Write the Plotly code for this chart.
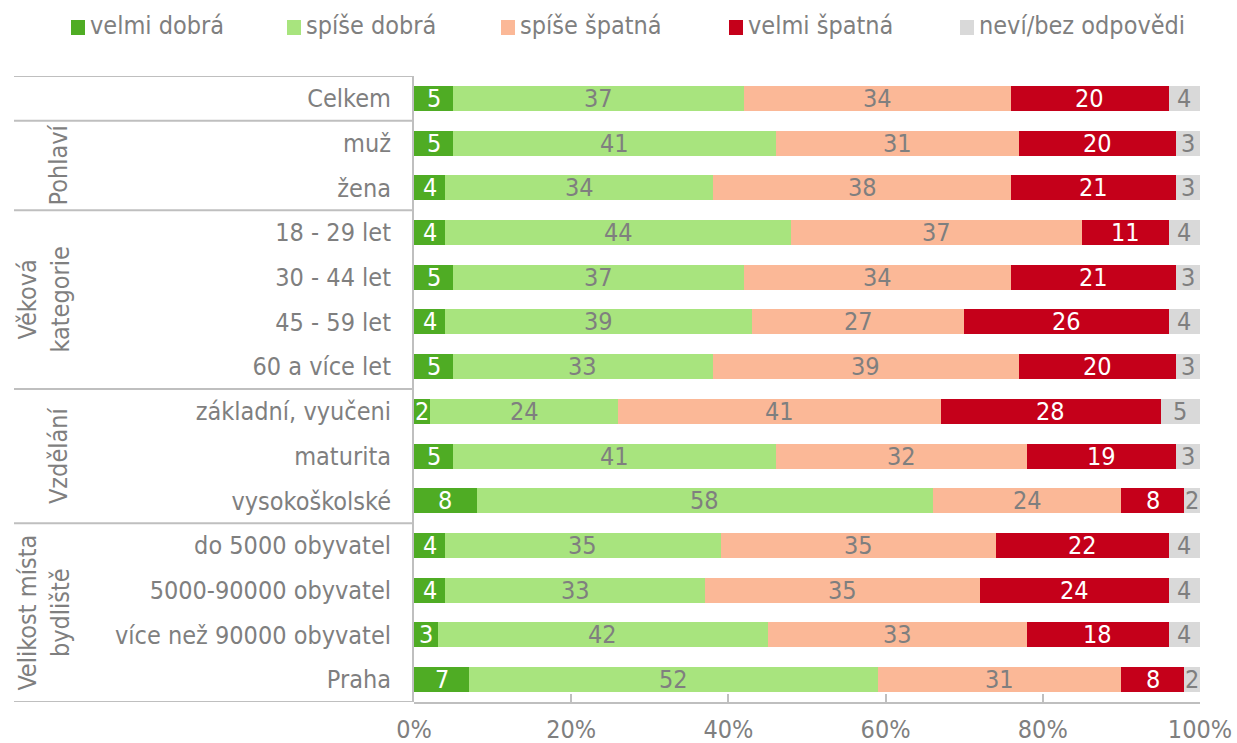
import plotly.graph_objects as go

# ---------------- data ----------------
categories = ["Celkem", "muž", "žena", "18 - 29 let", "30 - 44 let", "45 - 59 let",
              "60 a více let", "základní, vyučeni", "maturita", "vysokoškolské",
              "do 5000 obyvatel", "5000-90000 obyvatel", "více než 90000 obyvatel", "Praha"]

series_names = ["velmi dobrá", "spíše dobrá", "spíše špatná", "velmi špatná", "neví/bez odpovědi"]

velmi_dobra = [5, 5, 4, 4, 5, 4, 5, 2, 5, 8, 4, 4, 3, 7]
spise_dobra = [37, 41, 34, 44, 37, 39, 33, 24, 41, 58, 35, 33, 42, 52]
spise_spatna = [34, 31, 38, 37, 34, 27, 39, 41, 32, 24, 35, 35, 33, 31]
velmi_spatna = [20, 20, 21, 11, 21, 26, 20, 28, 19, 8, 22, 24, 18, 8]
nevi = [4, 3, 3, 4, 3, 4, 3, 5, 3, 2, 4, 4, 4, 2]

groups = ["Pohlaví", "Věková<br>kategorie", "Vzdělání", "Velikost místa<br>bydliště"]
group_members = [["muž", "žena"],
                 ["18 - 29 let", "30 - 44 let", "45 - 59 let", "60 a více let"],
                 ["základní, vyučeni", "maturita", "vysokoškolské"],
                 ["do 5000 obyvatel", "5000-90000 obyvatel", "více než 90000 obyvatel", "Praha"]]

tick_values = [0, 20, 40, 60, 80, 100]
tick_labels = ["0%", "20%", "40%", "60%", "80%", "100%"]

# ---------------- style ----------------
colors = ["#4FAC24", "#A8E47E", "#FBB897", "#C5001A", "#D9D9D9"]
label_colors = ["white", "#7F7F7F", "#7F7F7F", "white", "#7F7F7F"]
FONT = "DejaVu Sans Condensed, DejaVu Sans, sans-serif"
GRAY = "#7F7F7F"
LINE = "#BFBFBF"
FS = 25

W, H = 1237, 743
ML, MR, MT, MB = 414, 37, 76, 41
PW = W - ML - MR
PH = H - MT - MB


def px_x(px):
    return (px - ML) / PW


def px_y(py):
    return 1 - (py - MT) / PH


values = [velmi_dobra, spise_dobra, spise_spatna, velmi_spatna, nevi]

fig = go.Figure()
for name, vals, col in zip(series_names, values, colors):
    fig.add_trace(go.Bar(
        y=categories, x=vals, name=name, orientation="h",
        marker=dict(color=col, line=dict(width=0)),
        width=0.56, showlegend=False, hoverinfo="x+y+name",
    ))

annotations = []
# bar value labels, centred in each segment
for j, cat in enumerate(categories):
    start = 0
    for vals, tcol in zip(values, label_colors):
        v = vals[j]
        annotations.append(dict(
            x=start + v / 2, y=cat, xref="x", yref="y", text=str(v),
            showarrow=False, font=dict(family=FONT, size=FS, color=tcol),
            xanchor="center", yanchor="middle"))
        start += v

# group labels (rotated)
for g, members in zip(groups, group_members):
    idx = [categories.index(m) for m in members]
    ymid = (min(idx) + max(idx)) / 2
    xpix = 44 if "<br>" in g else 58
    annotations.append(dict(
        x=px_x(xpix), y=ymid, xref="paper", yref="y", text=g, textangle=-90,
        showarrow=False, font=dict(family=FONT, size=FS, color=GRAY),
        xanchor="center", yanchor="middle"))

# custom legend
shapes = []
legend_x = [71, 287, 501, 729, 960]
for name, col, lx in zip(series_names, colors, legend_x):
    shapes.append(dict(type="rect", xref="paper", yref="paper",
                       x0=px_x(lx), x1=px_x(lx + 14), y0=px_y(35), y1=px_y(20),
                       fillcolor=col, line=dict(width=0)))
    annotations.append(dict(
        x=px_x(lx + 17), y=px_y(25), xref="paper", yref="paper", text=name,
        showarrow=False, font=dict(family=FONT, size=FS, color=GRAY),
        xanchor="left", yanchor="middle"))

# separators of the category table
boundaries = [-0.5]
for members in group_members:
    boundaries.append(categories.index(members[0]) - 0.5)
for yb in boundaries:
    shapes.append(dict(type="line", xref="paper", yref="y",
                       x0=px_x(14), x1=px_x(413), y0=yb, y1=yb,
                       line=dict(color=LINE, width=2)))
n = len(categories)
shapes.append(dict(type="line", xref="paper", yref="y",
                   x0=px_x(14), x1=0, y0=n - 0.5, y1=n - 0.5,
                   line=dict(color=LINE, width=2)))
shapes.append(dict(type="line", xref="paper", yref="y",
                   x0=px_x(413), x1=px_x(413), y0=-0.5, y1=n - 0.5,
                   line=dict(color=LINE, width=2)))

fig.update_layout(
    barmode="stack",
    width=W, height=H, autosize=False,
    margin=dict(l=ML, r=MR, t=MT, b=MB, pad=0, autoexpand=False),
    paper_bgcolor="white", plot_bgcolor="white",
    font=dict(family=FONT, size=FS, color=GRAY),
    annotations=annotations, shapes=shapes,
    bargap=0.44,
    xaxis=dict(range=[0, 100], tickvals=tick_values, ticktext=tick_labels,
               showgrid=False, zeroline=False, showline=True, linecolor=LINE,
               linewidth=2, ticks="inside", ticklen=8, tickwidth=2, tickcolor=LINE,
               tickfont=dict(family=FONT, size=FS, color=GRAY),
               ticklabelstandoff=4, fixedrange=True, automargin=False),
    yaxis=dict(categoryorder="array", categoryarray=categories,
               range=[n - 0.5, -0.5], showgrid=False, zeroline=False,
               showline=False, ticks="", ticklabelstandoff=22,
               tickfont=dict(family=FONT, size=FS, color=GRAY), fixedrange=True,
               automargin=False),
)

fig.write_html(
    "out.html",
    config={"displayModeBar": False, "responsive": False},
    post_script="document.body.style.margin='0px';document.body.style.overflow='hidden';",
)
